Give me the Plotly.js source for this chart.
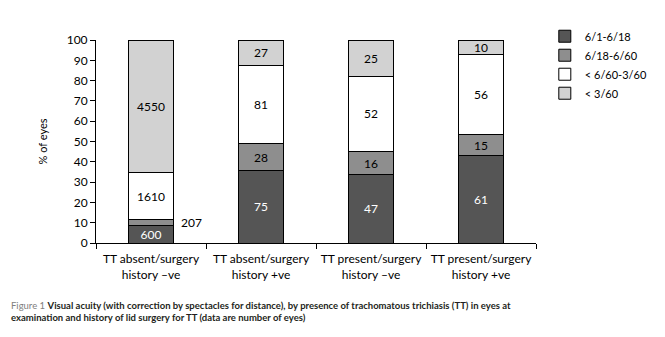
<!DOCTYPE html>
<html><head><meta charset="utf-8">
<script src="https://cdn.plot.ly/plotly-3.0.1.min.js"></script>
<style>html,body{margin:0;padding:0;background:#fff}#chart{width:665px;height:337px}</style>
</head><body><div id="chart"></div>
<script>
const categories = ["TT absent/surgery<br>history –ve","TT absent/surgery<br>history +ve","TT present/surgery<br>history –ve","TT present/surgery<br>history +ve"];
const seriesNames = ["6/1-6/18","6/18-6/60","< 6/60-3/60","< 3/60"];
const va_6_1_6_18   = [600, 75, 47, 61];
const va_6_18_6_60  = [207, 28, 16, 15];
const va_6_60_3_60  = [1610, 81, 52, 56];
const va_lt_3_60    = [4550, 27, 25, 10];
const yTicks = [0,10,20,30,40,50,60,70,80,90,100];

const series = [va_6_1_6_18, va_6_18_6_60, va_6_60_3_60, va_lt_3_60];
const colors = ["#555555","#8e8e8e","#ffffff","#d2d2d2"];
const textColors = ["#ffffff","#000000","#000000","#000000"];
const totals = categories.map((c,i)=>series.reduce((s,a)=>s+a[i],0));
const pct = series.map(a=>a.map((v,i)=>v/totals[i]*100));
const FONT = "Lato, 'Noto Sans', sans-serif";

const traces = series.map((a,k)=>({
  type:'bar', name:seriesNames[k], x:categories, y:pct[k],
  text:a.map((v,i)=> (k===1 && i===0) ? '' : String(v)),
  textposition:'inside', insidetextanchor:'middle', textangle:0,
  textfont:{color:textColors[k], size:12, family:FONT},
  marker:{color:colors[k], line:{color:'#000', width:1}},
  width:0.41, hoverinfo:'skip', cliponaxis:false
}));

const ann = [{
  xref:'x', yref:'y', x:categories[0], y:pct[0][0]+pct[1][0]/2,
  text:String(va_6_18_6_60[0]), showarrow:false, xanchor:'left', xshift:28,
  font:{size:12, family:FONT, color:'#000'}
},{
  xref:'paper', yref:'paper', x:-0.197, y:-0.27, xanchor:'left', yanchor:'top', align:'left',
  showarrow:false,
  text:'<span style="color:#808080">Figure 1</span> <b>Visual acuity (with correction by spectacles for distance), by presence of trachomatous trichiasis (TT) in eyes at</b><br><b>examination and history of lid surgery for TT (data are number of eyes)</b>',
  font:{size:9.5, family:FONT, color:'#231f20'}
}];

const layout = {
  width:665, height:337, margin:{l:96, r:116, t:40, b:94},
  paper_bgcolor:'#fff', plot_bgcolor:'#fff',
  barmode:'stack', showlegend:true,
  uniformtext:{mode:'show', minsize:12},
  font:{family:FONT, size:12, color:'#000'},
  xaxis:{type:'category', showline:true, linecolor:'#000', linewidth:1, ticks:'outside', tickson:'boundaries',
    ticklen:5, tickcolor:'#000', showgrid:false, tickfont:{size:12}, tickangle:0, ticklabelstandoff:5, automargin:false},
  yaxis:{range:[0,100], tickvals:yTicks, showline:true, linecolor:'#000', linewidth:1, ticks:'outside', ticklen:5,
    tickcolor:'#000', showgrid:false, zeroline:false, tickfont:{size:12},
    title:{text:'% of eyes', font:{size:11}, standoff:16}, automargin:false},
  legend:{x:1.02, y:1.09, xanchor:'left', yanchor:'top', traceorder:'normal', font:{size:11},
    bgcolor:'rgba(0,0,0,0)', itemwidth:30, tracegroupgap:0},
  annotations:ann
};
Plotly.newPlot('chart', traces, layout, {staticPlot:true, displayModeBar:false});
</script></body></html>
